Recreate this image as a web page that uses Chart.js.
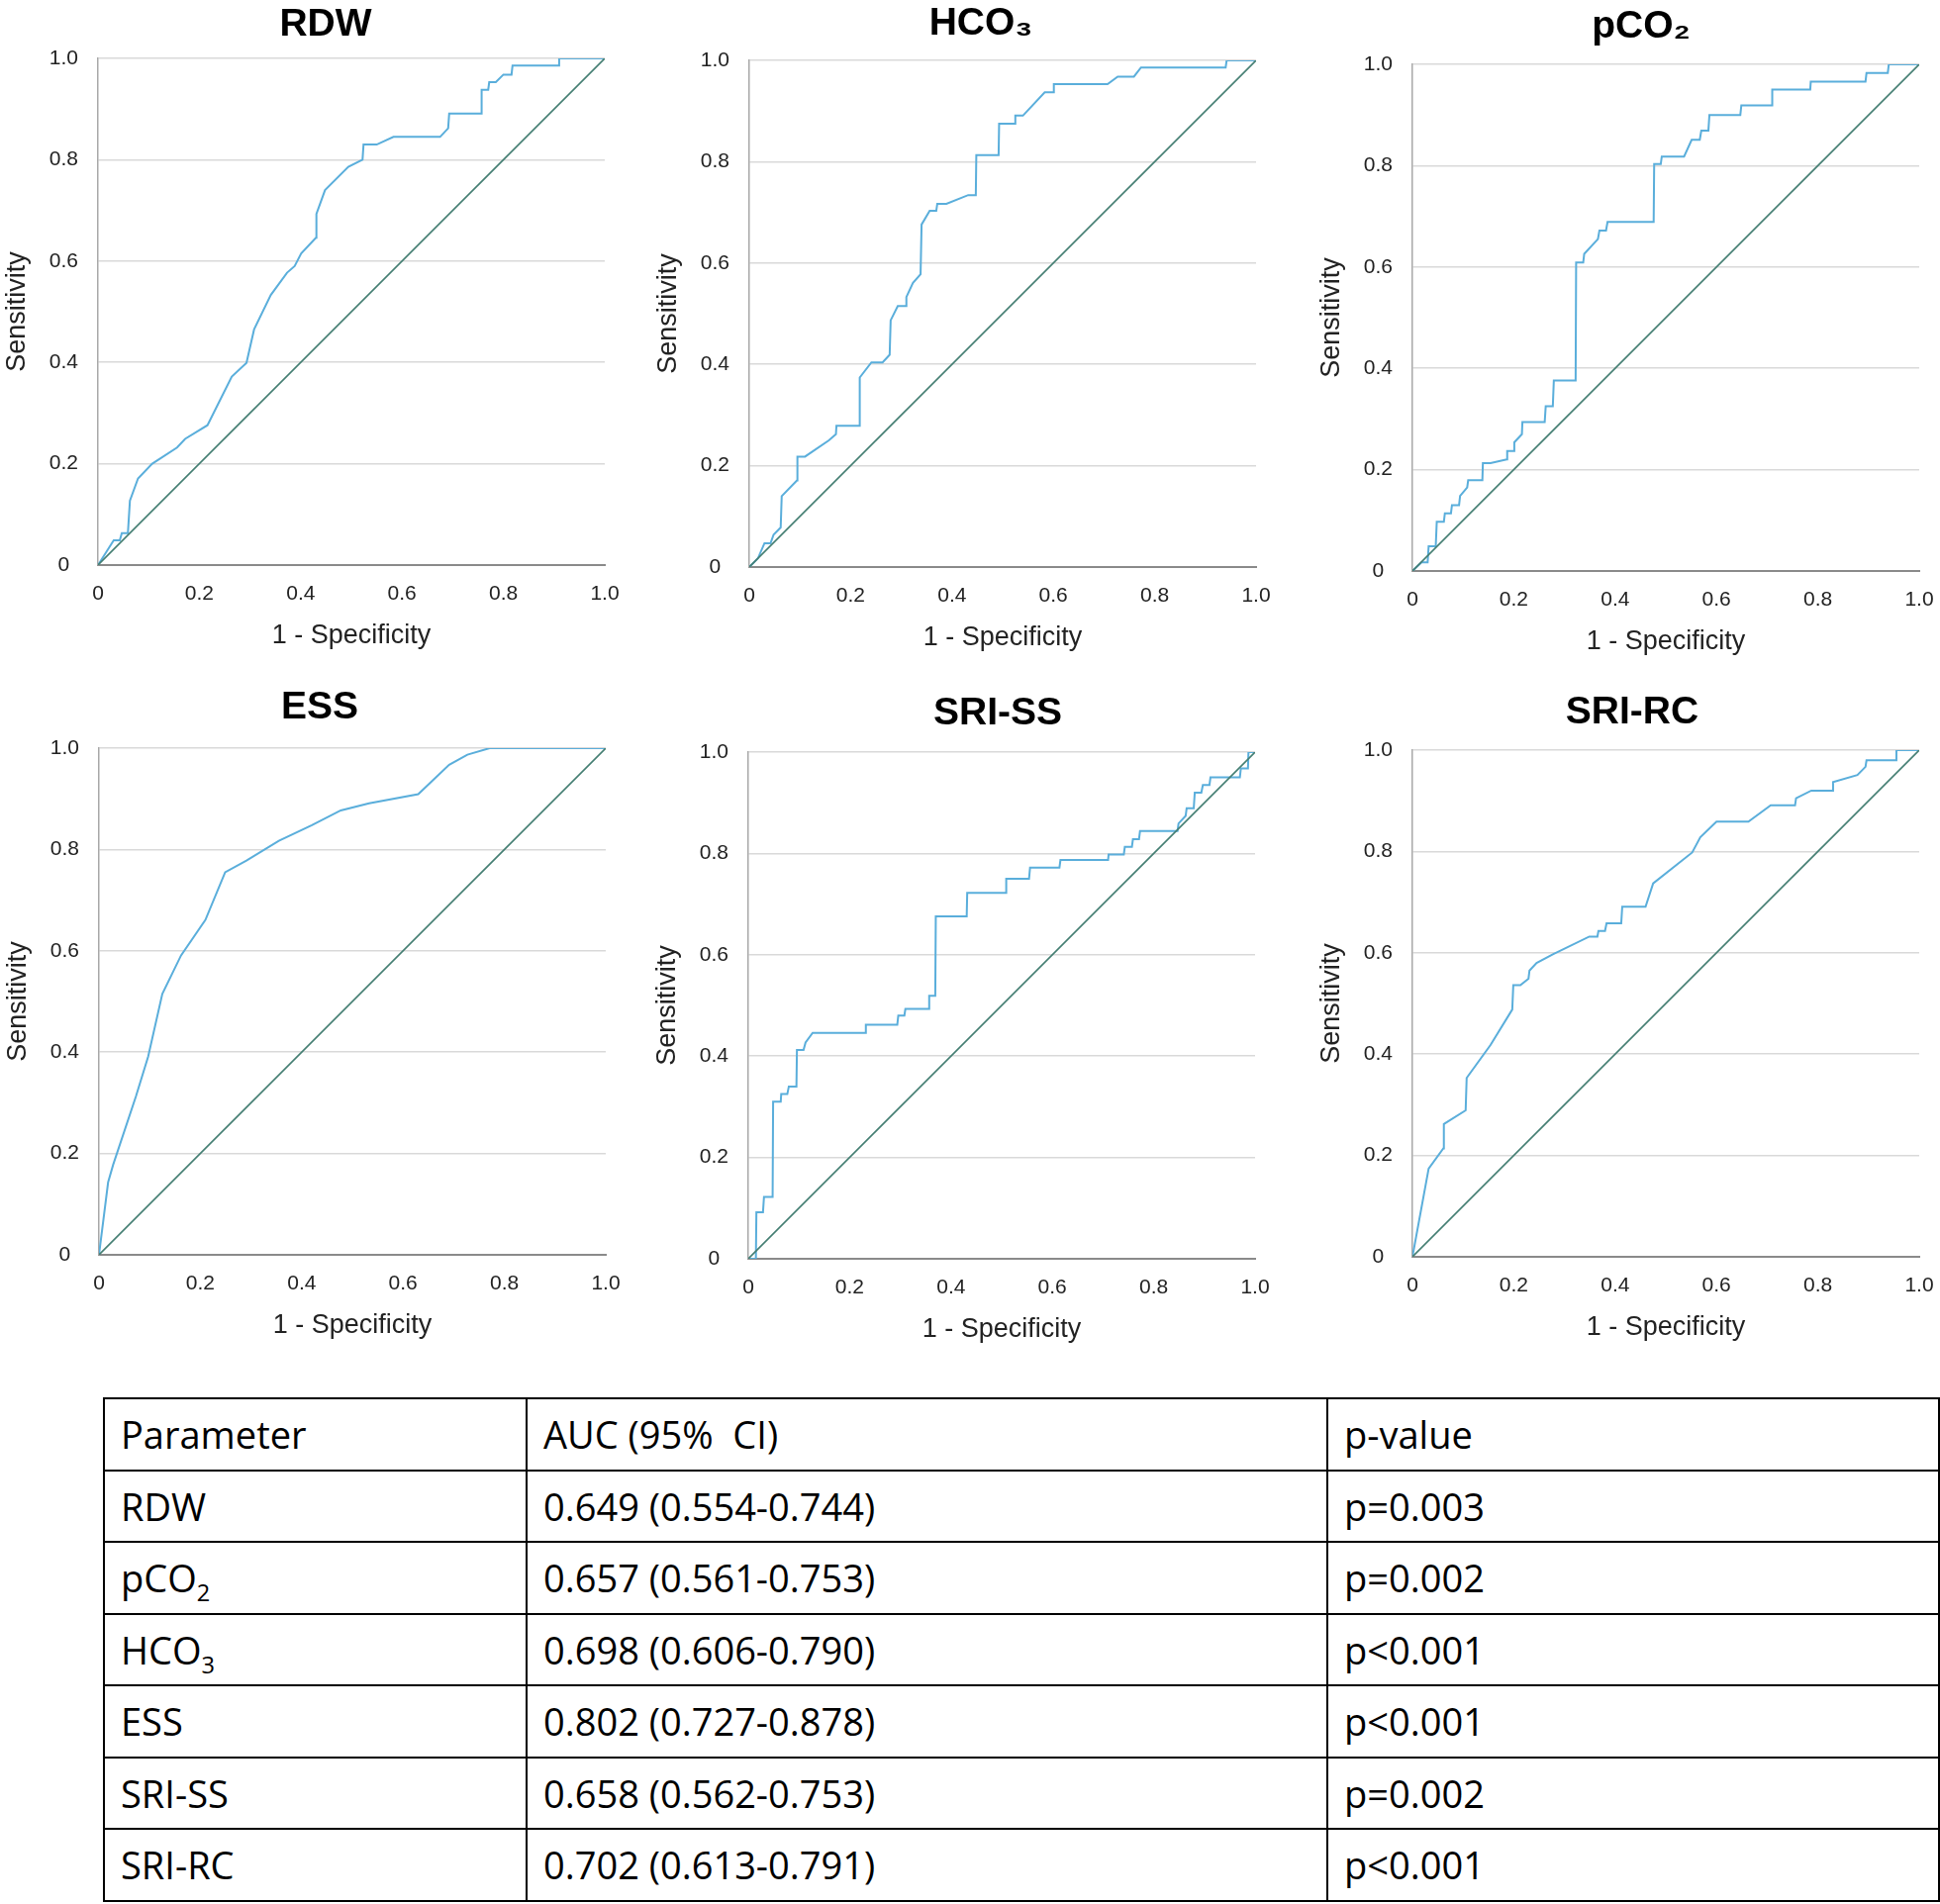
<!DOCTYPE html>
<html>
<head>
<meta charset="utf-8">
<title>ROC curves</title>
<script src="https://cdn.jsdelivr.net/npm/chart.js@4.4.1/dist/chart.umd.min.js"></script>
<style>
  html, body { margin: 0; padding: 0; background: #fff; overflow: hidden; }
  body { width: 1960px; height: 1924px; position: relative; }
  canvas.roc { position: absolute; }
  #aucTable {
    position: absolute; left: 104px; top: 1412px; width: 1854px;
    border-collapse: collapse; table-layout: fixed;
    font-family: "Open Sans", sans-serif; font-size: 38px; color: #000;
  }
  #aucTable td {
    border: 2px solid #000; height: 70.5px; padding: 0 0 0 16px;
    vertical-align: middle; white-space: pre; line-height: 1;
  }
  #aucTable sub { font-size: 0.62em; vertical-align: -0.4em; line-height: 0; }
</style>
</head>
<body>
<canvas class="roc" id="rocRdw"></canvas>
<canvas class="roc" id="rocHco3"></canvas>
<canvas class="roc" id="rocPco2"></canvas>
<canvas class="roc" id="rocEss"></canvas>
<canvas class="roc" id="rocSriSs"></canvas>
<canvas class="roc" id="rocSriRc"></canvas>
<table id="aucTable">
  <colgroup><col style="width:427px"><col style="width:809px"><col style="width:618px"></colgroup>
  <tbody id="aucBody"></tbody>
</table>

<script>
/* ROC curves: x = 1 - specificity, y = sensitivity */
const rdwX = [0, 0.031, 0.043, 0.047, 0.059, 0.063, 0.079, 0.107, 0.156, 0.172, 0.216, 0.264, 0.293, 0.308, 0.341, 0.373, 0.388, 0.401, 0.43, 0.431, 0.448, 0.494, 0.522, 0.524, 0.55, 0.583, 0.675, 0.691, 0.693, 0.756, 0.757, 0.77, 0.772, 0.785, 0.8, 0.816, 0.818, 0.909, 0.91, 1];
const rdwY = [0, 0.049, 0.049, 0.063, 0.063, 0.127, 0.171, 0.2, 0.232, 0.249, 0.276, 0.372, 0.399, 0.465, 0.533, 0.577, 0.59, 0.615, 0.646, 0.693, 0.74, 0.786, 0.8, 0.83, 0.83, 0.845, 0.845, 0.862, 0.891, 0.891, 0.938, 0.938, 0.953, 0.953, 0.968, 0.968, 0.986, 0.986, 1, 1];

const hco3X = [0, 0.017, 0.03, 0.042, 0.048, 0.062, 0.064, 0.094, 0.095, 0.11, 0.157, 0.171, 0.172, 0.217, 0.218, 0.241, 0.263, 0.277, 0.279, 0.293, 0.309, 0.31, 0.323, 0.338, 0.34, 0.356, 0.369, 0.371, 0.389, 0.432, 0.447, 0.448, 0.492, 0.493, 0.524, 0.525, 0.54, 0.583, 0.6, 0.601, 0.707, 0.727, 0.759, 0.773, 0.94, 0.942, 1];
const hco3Y = [0, 0.017, 0.047, 0.047, 0.064, 0.078, 0.14, 0.171, 0.218, 0.218, 0.25, 0.262, 0.279, 0.279, 0.374, 0.404, 0.404, 0.419, 0.487, 0.515, 0.515, 0.533, 0.561, 0.578, 0.676, 0.703, 0.703, 0.717, 0.717, 0.734, 0.734, 0.813, 0.813, 0.875, 0.875, 0.891, 0.891, 0.937, 0.937, 0.953, 0.953, 0.968, 0.968, 0.986, 0.986, 1, 1];

const pco2X = [0, 0.018, 0.03, 0.032, 0.046, 0.048, 0.062, 0.064, 0.076, 0.078, 0.092, 0.094, 0.108, 0.11, 0.138, 0.139, 0.154, 0.186, 0.187, 0.2, 0.201, 0.216, 0.217, 0.261, 0.263, 0.277, 0.279, 0.322, 0.323, 0.337, 0.339, 0.366, 0.369, 0.382, 0.385, 0.476, 0.477, 0.49, 0.492, 0.536, 0.551, 0.567, 0.57, 0.584, 0.586, 0.647, 0.649, 0.709, 0.71, 0.785, 0.786, 0.894, 0.896, 0.938, 0.94, 1];
const pco2Y = [0, 0.017, 0.017, 0.049, 0.049, 0.097, 0.097, 0.114, 0.114, 0.13, 0.13, 0.148, 0.165, 0.179, 0.179, 0.213, 0.213, 0.22, 0.237, 0.237, 0.254, 0.27, 0.294, 0.294, 0.325, 0.325, 0.376, 0.376, 0.609, 0.609, 0.626, 0.655, 0.672, 0.672, 0.689, 0.689, 0.803, 0.803, 0.818, 0.818, 0.851, 0.851, 0.869, 0.869, 0.9, 0.9, 0.919, 0.919, 0.95, 0.95, 0.966, 0.966, 0.983, 0.983, 1, 1];

const essX = [0, 0.018, 0.028, 0.073, 0.097, 0.125, 0.162, 0.21, 0.249, 0.291, 0.355, 0.42, 0.477, 0.533, 0.63, 0.691, 0.727, 0.771, 1];
const essY = [0, 0.143, 0.178, 0.313, 0.391, 0.515, 0.591, 0.661, 0.755, 0.778, 0.817, 0.848, 0.877, 0.891, 0.909, 0.967, 0.987, 1, 1];

const sriSsX = [0, 0.015, 0.016, 0.029, 0.031, 0.048, 0.049, 0.064, 0.065, 0.077, 0.08, 0.095, 0.096, 0.109, 0.113, 0.127, 0.231, 0.232, 0.294, 0.296, 0.308, 0.31, 0.356, 0.357, 0.369, 0.37, 0.431, 0.432, 0.508, 0.509, 0.554, 0.556, 0.614, 0.616, 0.71, 0.711, 0.741, 0.743, 0.757, 0.759, 0.771, 0.773, 0.847, 0.849, 0.863, 0.865, 0.879, 0.881, 0.894, 0.897, 0.91, 0.912, 0.97, 0.972, 0.986, 0.987, 1];
const sriSsY = [0, 0, 0.092, 0.092, 0.122, 0.122, 0.31, 0.31, 0.325, 0.325, 0.34, 0.34, 0.412, 0.412, 0.427, 0.446, 0.446, 0.462, 0.462, 0.48, 0.48, 0.493, 0.493, 0.519, 0.519, 0.676, 0.676, 0.722, 0.722, 0.75, 0.75, 0.772, 0.772, 0.787, 0.787, 0.798, 0.798, 0.813, 0.813, 0.828, 0.828, 0.844, 0.844, 0.859, 0.874, 0.889, 0.889, 0.92, 0.92, 0.935, 0.935, 0.95, 0.95, 0.968, 0.968, 1, 1];

const sriRcX = [0, 0.032, 0.061, 0.062, 0.105, 0.107, 0.154, 0.197, 0.199, 0.213, 0.229, 0.231, 0.245, 0.277, 0.349, 0.365, 0.367, 0.38, 0.383, 0.412, 0.414, 0.46, 0.475, 0.552, 0.568, 0.6, 0.663, 0.707, 0.755, 0.757, 0.787, 0.829, 0.83, 0.878, 0.894, 0.896, 0.954, 0.955, 1];
const sriRcY = [0, 0.174, 0.214, 0.262, 0.289, 0.353, 0.418, 0.488, 0.536, 0.536, 0.549, 0.565, 0.58, 0.597, 0.632, 0.632, 0.643, 0.643, 0.658, 0.658, 0.691, 0.691, 0.737, 0.798, 0.828, 0.859, 0.859, 0.891, 0.891, 0.905, 0.92, 0.92, 0.937, 0.951, 0.967, 0.98, 0.98, 1, 1];

/* reference line */
const diagX = [0, 1];
const diagY = [0, 1];

/* table below the charts */
const tableHeader = ['Parameter', 'AUC (95%  CI)', 'p-value'];
const tableParams = ['RDW', 'pCO<sub>2</sub>', 'HCO<sub>3</sub>', 'ESS', 'SRI-SS', 'SRI-RC'];
const tableAuc = ['0.649 (0.554-0.744)', '0.657 (0.561-0.753)', '0.698 (0.606-0.790)', '0.802 (0.727-0.878)', '0.658 (0.562-0.753)', '0.702 (0.613-0.791)'];
const tablePValues = ['p=0.003', 'p=0.002', 'p<0.001', 'p<0.001', 'p=0.002', 'p<0.001'];

const curveColor = '#5aaedb';
const diagColor = '#457f73';
const fontFamily = '"Liberation Sans", Arial, sans-serif';

// plot box position on the page; "right" is the blank strip right of the plot
// (it sets where the centred title falls), titleDy nudges the title down
const panels = [
  { id: 'rocRdw',   title: 'RDW',    xs: rdwX,   ys: rdwY,   left: 99,   top: 59,  right: 48, titleDy: 7 },
  { id: 'rocHco3',  title: 'HCO₃',   xs: hco3X,  ys: hco3Y,  left: 757,  top: 61,  right: 56, titleDy: 4 },
  { id: 'rocPco2',  title: 'pCO₂',   xs: pco2X,  ys: pco2Y,  left: 1427, top: 65,  right: 50, titleDy: 3 },
  { id: 'rocEss',   title: 'ESS',    xs: essX,   ys: essY,   left: 100,  top: 756, right: 34, titleDy: 0 },
  { id: 'rocSriSs', title: 'SRI-SS', xs: sriSsX, ys: sriSsY, left: 756,  top: 760, right: 92, titleDy: 2 },
  { id: 'rocSriRc', title: 'SRI-RC', xs: sriRcX, ys: sriRcY, left: 1427, top: 758, right: 32, titleDy: 3 },
];

const PLOT = 512, Y_AXIS_W = 100, TOP_H = 64, X_AXIS_H = 110, TITLE_LH = 46.8;

function tickText(v) {
  return v === 0 ? '0' : v.toFixed(1);
}

function drawRoc(p) {
  const canvas = document.getElementById(p.id);
  canvas.width = Y_AXIS_W + PLOT + p.right;
  canvas.height = TOP_H + PLOT + X_AXIS_H;
  canvas.style.left = (p.left - Y_AXIS_W) + 'px';
  canvas.style.top = (p.top - TOP_H) + 'px';

  const curve = p.xs.map((x, i) => ({ x: x, y: p.ys[i] }));
  const diag = diagX.map((x, i) => ({ x: x, y: diagY[i] }));

  new Chart(canvas, {
    type: 'scatter',
    data: {
      datasets: [
        { data: diag, showLine: true, borderColor: diagColor, borderWidth: 1.6, pointRadius: 0 },
        { data: curve, showLine: true, borderColor: curveColor, borderWidth: 2, pointRadius: 0, tension: 0 },
      ],
    },
    options: {
      responsive: false,
      animation: false,
      layout: { padding: 0 },
      plugins: {
        legend: { display: false },
        tooltip: { enabled: false },
        title: {
          display: true,
          text: p.title,
          color: '#000',
          font: { family: fontFamily, size: 39, weight: 'bold', lineHeight: 1.2 },
          padding: { top: p.titleDy, bottom: TOP_H - TITLE_LH - p.titleDy },
        },
      },
      scales: {
        x: {
          type: 'linear', min: 0, max: 1,
          ticks: { stepSize: 0.2, callback: tickText, padding: 17, maxRotation: 0, color: '#222', font: { family: fontFamily, size: 21 } },
          grid: { display: false, drawTicks: false },
          border: { display: true, color: '#8a8a8a', width: 2 },
          title: { display: true, text: '1 - Specificity', color: '#222', font: { family: fontFamily, size: 27 }, padding: { top: 0, bottom: 22 } },
          afterFit: (s) => { s.height = X_AXIS_H; },
        },
        y: {
          type: 'linear', min: 0, max: 1,
          ticks: { stepSize: 0.2, callback: tickText, padding: 20, crossAlign: 'center', color: '#222', font: { family: fontFamily, size: 21 } },
          grid: { color: '#d9d9d9', lineWidth: 1.5, drawTicks: false },
          border: { display: true, color: '#a8a8a8', width: 1.5 },
          title: { display: true, text: 'Sensitivity', color: '#222', font: { family: fontFamily, size: 27 }, padding: { top: 2, bottom: 0 } },
          afterFit: (s) => { s.width = Y_AXIS_W; },
        },
        // empty strip on the right so the title centres like the original
        yRight: {
          position: 'right', min: 0, max: 1,
          ticks: { display: false },
          grid: { display: false, drawTicks: false },
          border: { display: false },
          afterFit: (s) => { s.width = p.right; },
        },
      },
    },
  });
}

panels.forEach(drawRoc);

/* fill the AUC table */
const body = document.getElementById('aucBody');
function addRow(cells, isHtml) {
  const tr = document.createElement('tr');
  cells.forEach((c, i) => {
    const td = document.createElement('td');
    if (isHtml && i === 0) td.innerHTML = c; else td.textContent = c;
    tr.appendChild(td);
  });
  body.appendChild(tr);
}
addRow(tableHeader, false);
tableParams.forEach((name, i) => addRow([name, tableAuc[i], tablePValues[i]], true));
</script>
</body>
</html>
